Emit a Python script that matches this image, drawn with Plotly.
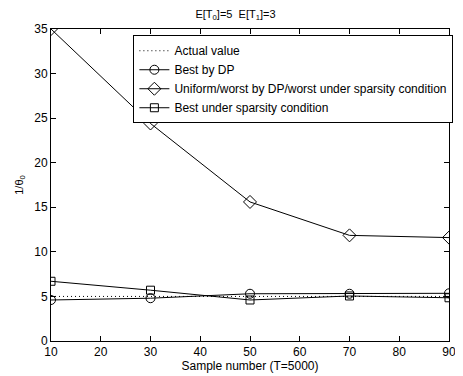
import plotly.graph_objects as go

x = [10, 30, 50, 70, 90]
actual = [5, 5, 5, 5, 5]
best_dp = [4.6, 4.8, 5.3, 5.3, 5.35]
uniform_worst = [35, 24.4, 15.6, 11.85, 11.6]
best_sparse = [6.7, 5.7, 4.6, 5.05, 4.85]

names = ["Actual value", "Best by DP", "Uniform/worst by DP/worst under sparsity condition",
         "Best under sparsity condition"]

fig = go.Figure()
fig.add_trace(go.Scatter(x=x, y=actual, mode="lines", name=names[0],
                         line=dict(color="black", width=1, dash="1px,3px")))
fig.add_trace(go.Scatter(x=x, y=best_dp, mode="lines+markers", name=names[1],
                         line=dict(color="black", width=1),
                         marker=dict(symbol="circle-open", size=9, color="black", line=dict(width=1))))
fig.add_trace(go.Scatter(x=x, y=uniform_worst, mode="lines+markers", name=names[2],
                         line=dict(color="black", width=1),
                         marker=dict(symbol="diamond-open", size=10, color="black", line=dict(width=1))))
fig.add_trace(go.Scatter(x=x, y=best_sparse, mode="lines+markers", name=names[3],
                         line=dict(color="black", width=1),
                         marker=dict(symbol="square-open", size=8, color="black", line=dict(width=1))))

axis_common = dict(showgrid=False, zeroline=False, showline=True, linecolor="black", linewidth=1,
                   mirror="ticks", ticks="inside", ticklen=5, tickcolor="black",
                   tickfont=dict(size=12, color="black"))
fig.update_xaxes(range=[10, 90], tickvals=[10, 20, 30, 40, 50, 60, 70, 80, 90],
                 title=dict(text="Sample number (T=5000)", font=dict(size=12, color="black"), standoff=1),
                 **axis_common)
fig.update_yaxes(range=[0, 35], tickvals=[0, 5, 10, 15, 20, 25, 30, 35],
                 title=dict(text="1/θ<sub>0</sub>", font=dict(size=11, color="black"), standoff=8),
                 **axis_common)

# page body has an 8px margin: figure is sized/offset to compensate
fig.update_layout(
    width=455, height=368,
    margin=dict(l=43, r=7, t=21, b=34),
    paper_bgcolor="white", plot_bgcolor="white",
    font=dict(family="Liberation Sans, Arial, sans-serif", size=12, color="black"),
    title=dict(text="E[T<sub>0</sub>]=5  E[T<sub>1</sub>]=3", x=0.5, xanchor="center", y=0.995,
               yanchor="top", font=dict(size=11, color="black")),
    legend=dict(x=0.207, y=0.98, xanchor="left", yanchor="top", bgcolor="white",
                bordercolor="black", borderwidth=1, font=dict(size=12, color="black"),
                tracegroupgap=0, itemwidth=30),
    showlegend=True,
)

fig.write_html("out.html")
